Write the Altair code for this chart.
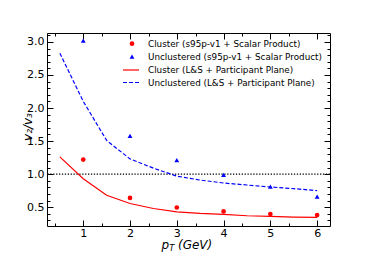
import altair as alt
import pandas as pd

# ---- data ----
pt = [1, 2, 3, 4, 5, 6]
cluster_sp = [1.22, 0.64, 0.495, 0.435, 0.395, 0.38]
unclustered_sp = [3.02, 1.58, 1.21, 0.99, 0.81, 0.66]

model_pt = [0.5, 1.0, 1.5, 2.0, 2.5, 3.0, 3.5, 4.0, 4.5, 5.0, 5.5, 6.0]
cluster_ls = [1.26, 0.93, 0.68, 0.555, 0.48, 0.43, 0.405, 0.39, 0.37, 0.36, 0.35, 0.345]
unclustered_ls = [2.83, 2.1, 1.51, 1.23, 1.09, 0.97, 0.91, 0.865, 0.835, 0.805, 0.78, 0.75]

legend_labels = [
    "Cluster (s95p-v1 + Scalar Product)",
    "Unclustered (s95p-v1 + Scalar Product)",
    "Cluster (L&S + Participant Plane)",
    "Unclustered (L&S + Participant Plane)",
]

x_major = [1, 2, 3, 4, 5, 6]
x_minor = [0.4, 0.6, 0.8, 1.2, 1.4, 1.6, 1.8, 2.2, 2.4, 2.6, 2.8, 3.2, 3.4, 3.6, 3.8,
           4.2, 4.4, 4.6, 4.8, 5.2, 5.4, 5.6, 5.8, 6.2]
y_major = [0.5, 1.0, 1.5, 2.0, 2.5, 3.0]
y_minor = [0.3, 0.4, 0.6, 0.7, 0.8, 0.9, 1.1, 1.2, 1.3, 1.4, 1.6, 1.7, 1.8, 1.9,
           2.1, 2.2, 2.3, 2.4, 2.6, 2.7, 2.8, 2.9, 3.1]
ref_level = [1.0]

FONT = "DejaVu Sans"
xs = alt.Scale(domain=[0.225, 6.275], nice=False, zero=False)
ys = alt.Scale(domain=[0.215, 3.135], nice=False, zero=False)

MAJ, MIN = 6, 3


def xaxis(orient, values, size, labels):
    return alt.Axis(orient=orient, values=values, tickSize=size, offset=-size,
                    domain=False, grid=False, labels=labels, title=None,
                    tickColor="black", tickWidth=1, labelFont=FONT, labelFontSize=11,
                    labelColor="black", labelPadding=1.5, format="d",
                    labelFlush=False, labelOverlap=False)


def yaxis(orient, values, size, labels):
    return alt.Axis(orient=orient, values=values, tickSize=size, offset=-size,
                    domain=False, grid=False, labels=labels, title=None,
                    tickColor="black", tickWidth=1, labelFont=FONT, labelFontSize=11,
                    labelColor="black", labelPadding=3, format=".1f",
                    labelFlush=False, labelOverlap=False)


sp = pd.DataFrame({"pt": pt, "cl": cluster_sp, "uc": unclustered_sp})
ls = pd.DataFrame({"pt": model_pt, "cl": cluster_ls, "uc": unclustered_ls})
ref = pd.DataFrame({"y": ref_level})

hline = alt.Chart(ref).mark_rule(color="black", strokeWidth=1.3, strokeDash=[1.3, 1.6]).encode(
    y=alt.Y("y:Q", scale=ys, axis=None))

red_line = alt.Chart(ls).mark_line(color="#ff0000", strokeWidth=1.2).encode(
    x=alt.X("pt:Q", scale=xs, axis=xaxis("bottom", x_minor, MIN, False)),
    y=alt.Y("cl:Q", scale=ys, axis=yaxis("left", y_minor, MIN, False)))

blue_line = alt.Chart(ls).mark_line(color="#0000ff", strokeWidth=1.2, strokeDash=[4, 2]).encode(
    x=alt.X("pt:Q", scale=xs, axis=xaxis("top", x_minor, MIN, False)),
    y=alt.Y("uc:Q", scale=ys, axis=yaxis("right", y_minor, MIN, False)))

red_pts = alt.Chart(sp).mark_point(shape="circle", filled=True, color="#ff0000", size=22, opacity=1).encode(
    x=alt.X("pt:Q", scale=xs, axis=xaxis("bottom", x_major, MAJ, True)),
    y=alt.Y("cl:Q", scale=ys, axis=yaxis("left", y_major, MAJ, True)))

blue_pts = alt.Chart(sp).mark_point(shape="triangle-up", filled=True, color="#0000ff", size=24, opacity=1).encode(
    x=alt.X("pt:Q", scale=xs, axis=xaxis("top", x_major, MAJ, False)),
    y=alt.Y("uc:Q", scale=ys, axis=yaxis("right", y_major, MAJ, False)))

# ---- legend (manual, matplotlib-like, no frame) ----
row_y = [10.7, 23.7, 37.0, 49.5]
leg_layers = []
for lab, yy in zip(legend_labels, row_y):
    leg_layers.append(
        alt.Chart(pd.DataFrame({"label": [lab]})).mark_text(
            font=FONT, fontSize=8.8, align="left", baseline="middle", color="black"
        ).encode(x=alt.value(101), y=alt.value(yy), text="label:N"))

one = pd.DataFrame({"k": [0]})
leg_layers.append(alt.Chart(one).mark_point(shape="circle", filled=True, color="#ff0000", size=22, opacity=1)
                  .encode(x=alt.value(85), y=alt.value(row_y[0])))
leg_layers.append(alt.Chart(one).mark_point(shape="triangle-up", filled=True, color="#0000ff", size=24, opacity=1)
                  .encode(x=alt.value(85), y=alt.value(row_y[1])))
leg_layers.append(alt.Chart(one).mark_rule(color="#ff0000", strokeWidth=1.2)
                  .encode(x=alt.value(76), x2=alt.value(92), y=alt.value(row_y[2])))
leg_layers.append(alt.Chart(one).mark_rule(color="#0000ff", strokeWidth=1.2, strokeDash=[4, 2])
                  .encode(x=alt.value(76), x2=alt.value(92), y=alt.value(row_y[3])))

# ---- axis titles with subscripts (placed relative to the plot size) ----
tstyle = dict(font=FONT, fontStyle="italic", color="black", baseline="alphabetic", align="left")
base_y = alt.value({"expr": "height + 22.5"})
title_layers = [
    alt.Chart(pd.DataFrame({"t": ["p"]})).mark_text(fontSize=12, **tstyle)
    .encode(x=alt.value({"expr": "width/2 - 27"}), y=base_y, text="t:N"),
    alt.Chart(pd.DataFrame({"t": ["T"]})).mark_text(fontSize=8.4, **tstyle)
    .encode(x=alt.value({"expr": "width/2 - 19.3"}), y=alt.value({"expr": "height + 24.5"}), text="t:N"),
    alt.Chart(pd.DataFrame({"t": ["(GeV)"]})).mark_text(fontSize=12, **tstyle)
    .encode(x=alt.value({"expr": "width/2 - 10.5"}), y=base_y, text="t:N"),
    alt.Chart(pd.DataFrame({"t": ["v₂/v₃"]})).mark_text(
        font=FONT, fontStyle="italic", fontSize=12, color="black",
        baseline="alphabetic", align="center", angle=270)
    .encode(x=alt.value(-15.5), y=alt.value({"expr": "height/2 - 2.5"}), text="t:N"),
]

chart = alt.layer(hline, red_line, blue_line, red_pts, blue_pts, *leg_layers, *title_layers).resolve_axis(
    x="independent", y="independent"
).properties(
    width=352, height=244,
    autosize=alt.AutoSizeParams(type="fit", contains="padding"),
    padding={"left": 13, "top": 24, "right": 29, "bottom": 0},
    background="white",
).configure_view(stroke="black", strokeWidth=1)

chart.save("out.html", embed_options={"renderer": "svg", "actions": False})
